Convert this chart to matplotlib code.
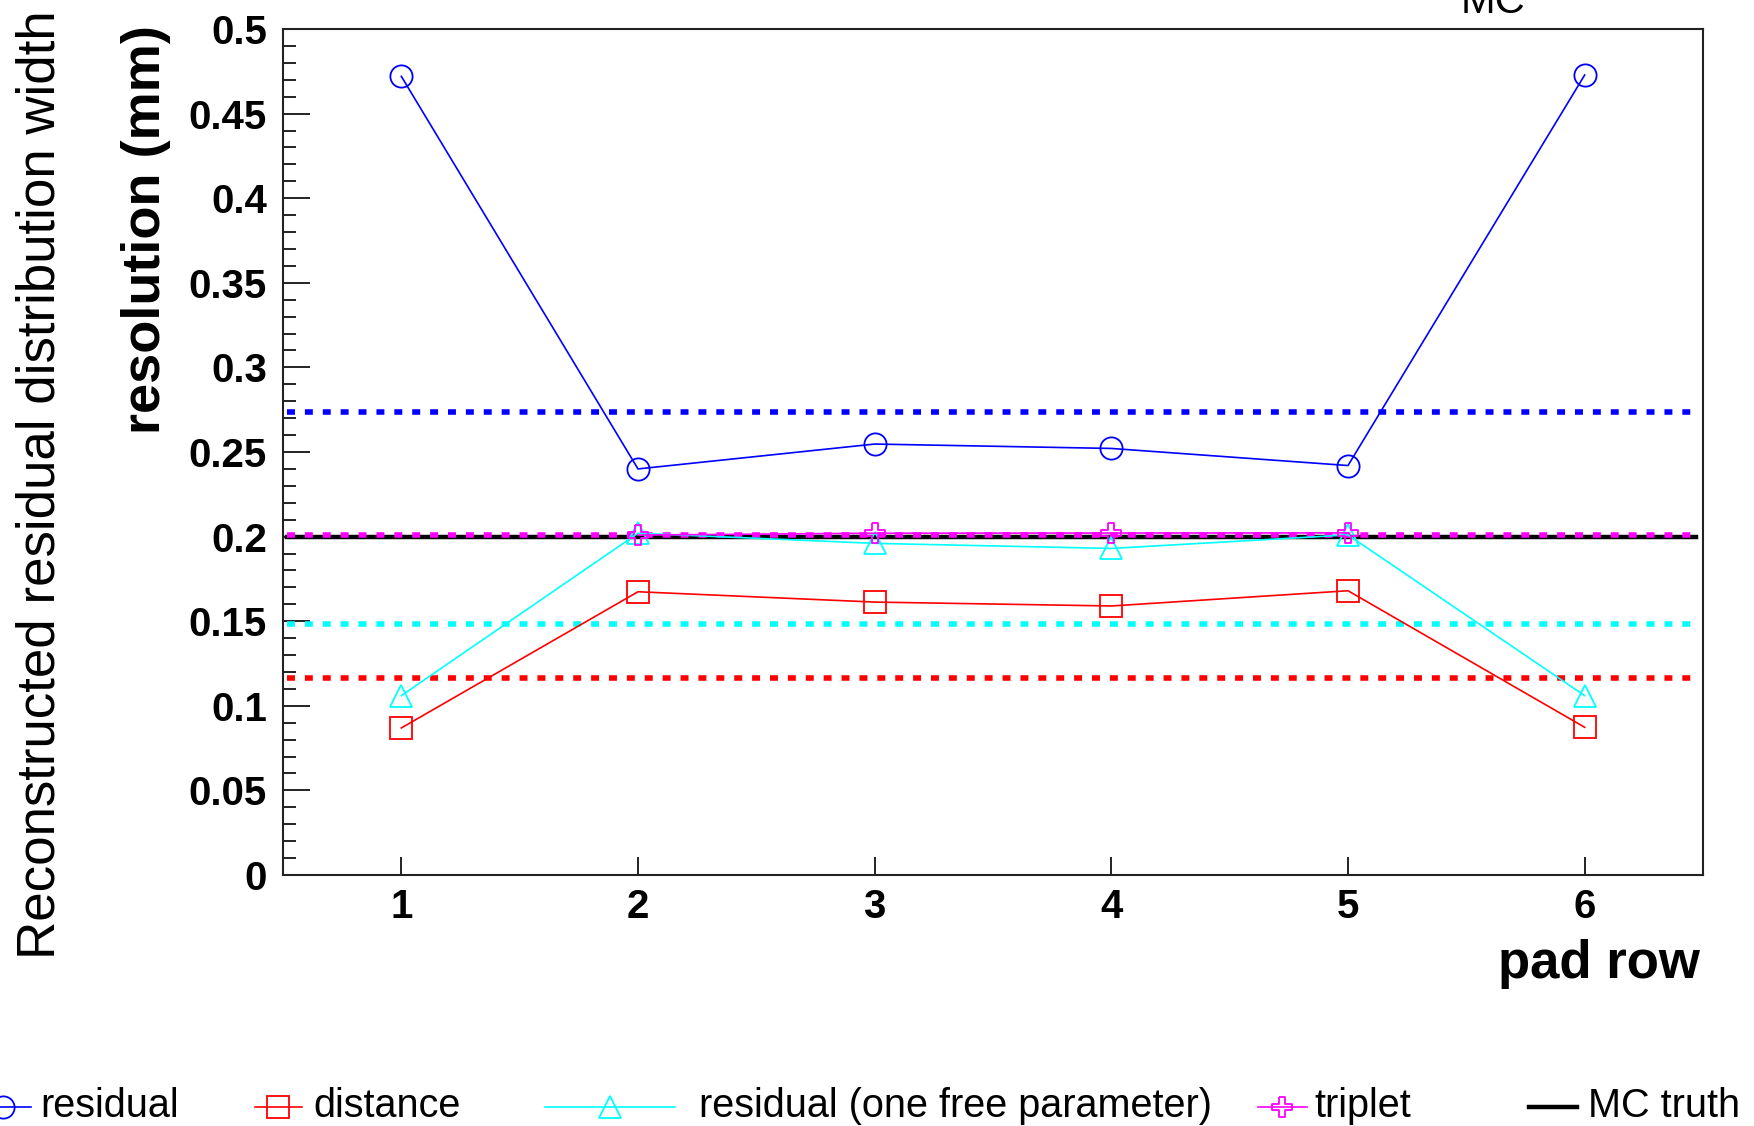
import matplotlib
matplotlib.use("Agg")
import matplotlib.pyplot as plt
from matplotlib.lines import Line2D
from matplotlib.path import Path
from matplotlib.ticker import MultipleLocator, FixedLocator

plt.rcParams['font.family'] = ['Liberation Sans', 'DejaVu Sans']

# ---------------- data ----------------
pad_rows = [1, 2, 3, 4, 5, 6]
residual = [0.472, 0.240, 0.2547, 0.2521, 0.242, 0.4728]
distance = [0.0869, 0.1674, 0.1613, 0.1590, 0.1680, 0.0873]
residual_one_free = [0.106, 0.202, 0.196, 0.193, 0.201, 0.106]
triplet_rows = [2, 3, 4, 5]
triplet = [0.2009, 0.2020, 0.2021, 0.2022]

# horizontal reference levels (dotted: averages, solid: MC truth)
mean_residual = 0.2739
mean_triplet = 0.2010
mean_one_free = 0.1481
mean_distance = 0.1162
mc_truth = 0.2000

yticks = [0, 0.05, 0.1, 0.15, 0.2, 0.25, 0.3, 0.35, 0.4, 0.45, 0.5]
ytick_labels = ["0", "0.05", "0.1", "0.15", "0.2", "0.25", "0.3", "0.35", "0.4", "0.45", "0.5"]
xtick_labels = ["1", "2", "3", "4", "5", "6"]

legend_labels = ["residual", "distance", "residual (one free parameter)", "triplet", "MC truth"]

BLUE, RED, CYAN, MAGENTA = "#0000ff", "#ff0000", "#00ffff", "#ff00ff"

# open cross marker (ROOT style 28)
w = 0.33
cross = Path([(-w, 1), (w, 1), (w, w), (1, w), (1, -w), (w, -w), (w, -1), (-w, -1),
              (-w, -w), (-1, -w), (-1, w), (-w, w), (-w, 1)])

W, H = 1754, 1126
fig = plt.figure(figsize=(W / 100, H / 100), dpi=100)
ax = fig.add_axes([283 / W, 1 - 875 / H, (1703 - 283) / W, (875 - 29) / H])
ax.set_xlim(0.5, 6.5)
ax.set_ylim(0, 0.5)

dash = dict(lw=4.0, dashes=(1.43, 1.79), dash_capstyle='butt', xmin=0.003, xmax=0.995)
ax.axhline(mc_truth, color='black', lw=3.2, xmin=0.003, xmax=0.995, zorder=2)
ax.axhline(mean_residual, color=BLUE, zorder=3, **dash)
ax.axhline(mean_triplet, color=MAGENTA, zorder=3, **dash)
ax.axhline(mean_one_free, color=CYAN, zorder=3, **dash)
ax.axhline(mean_distance, color=RED, zorder=3, **dash)

lk = dict(lw=1.2, mfc='none', mew=1.3, zorder=4)
ax.plot(pad_rows, residual, color=BLUE, marker='o', ms=16, **lk)
ax.plot(pad_rows, distance, color=RED, marker='s', ms=15.5, **lk)
ax.plot(pad_rows, residual_one_free, color=CYAN, marker='^', ms=16, **lk)
ax.plot(triplet_rows, triplet, color=MAGENTA, marker=cross, ms=15, **lk)

# axes styling
for s in ax.spines.values():
    s.set_linewidth(1.5)
    s.set_color('#222222')
ax.xaxis.set_major_locator(FixedLocator(pad_rows))
ax.set_xticklabels(xtick_labels)
ax.yaxis.set_major_locator(FixedLocator(yticks))
ax.set_yticklabels(ytick_labels)
ax.yaxis.set_minor_locator(MultipleLocator(0.01))
ax.tick_params(axis='y', which='major', direction='in', length=19.5, width=1.4, pad=11.5,
               labelsize=29, color='#222222')
ax.tick_params(axis='y', which='minor', direction='in', length=9.4, width=1.4, color='#222222')
ax.tick_params(axis='x', which='major', direction='in', length=13, width=1.4, pad=9,
               labelsize=29, color='#222222')
for lab in ax.get_xticklabels() + ax.get_yticklabels():
    lab.set_fontweight('bold')

# titles
fig.text(1700 / W, 1 - 978 / H, "pad row", ha='right', va='baseline',
         fontsize=38, fontweight='bold')
fig.text(160 / W, 1 - 230 / H, "resolution (mm)", ha='center', va='baseline',
         rotation=90, rotation_mode='anchor', fontsize=39, fontweight='bold')
fig.text(55 / W, 1 - 485 / H, "Reconstructed residual distribution width", ha='center',
         va='baseline', rotation=90, rotation_mode='anchor', fontsize=38.1)
fig.text(1493 / W, 1 - 13 / H, "MC", ha='center', va='baseline', fontsize=30)

# legend row (manually placed, ROOT style)
ly = 1 - 1107 / H
ty = 1 - 1117 / H
entries = [
    (BLUE, 'o', 16, -21, 31, 3, 40, '-', 1.2),
    (RED, 's', 15.5, 255, 302, 278, 313, '-', 1.2),
    (CYAN, '^', 16, 545, 675, 610, 699, '-', 1.2),
    (MAGENTA, cross, 15, 1258, 1307, 1282, 1314, '-', 1.2),
    ('black', None, 0, 1529, 1577, None, 1588, '-', 3.2),
]
for (c, m, ms, x0, x1, xm, xt, ls, lw), lab in zip(entries, legend_labels):
    fig.add_artist(Line2D([x0 / W, x1 / W], [ly, ly], color=c, lw=lw, ls=ls,
                          transform=fig.transFigure))
    if m is not None:
        fig.add_artist(Line2D([xm / W], [ly], color=c, marker=m, ms=ms, mfc='none',
                              mew=1.3, transform=fig.transFigure))
    fig.text(xt / W, ty, lab, ha='left', va='baseline', fontsize=28.5)

fig.savefig("out.png", dpi=100)
